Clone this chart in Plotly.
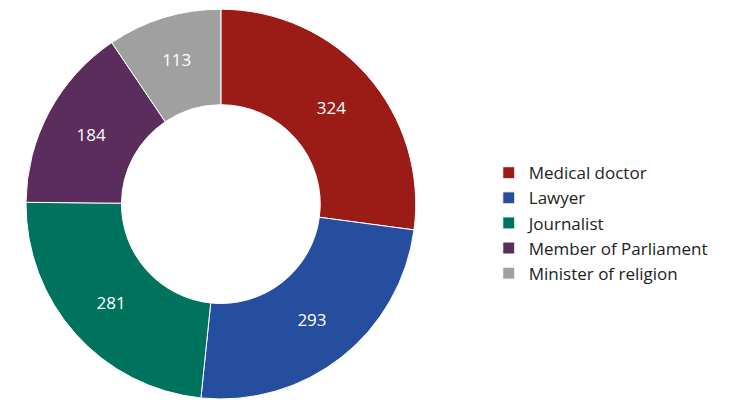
import plotly.graph_objects as go

labels = ["Medical doctor", "Lawyer", "Journalist", "Member of Parliament", "Minister of religion"]
values = [324, 293, 281, 184, 113]
colours = ["#9B1B17", "#254E9E", "#00735F", "#5A2D5C", "#A0A0A0"]

fig = go.Figure(go.Pie(
    labels=labels, values=values, hole=0.51, sort=False, direction="clockwise",
    rotation=0, marker=dict(colors=colours, line=dict(color="white", width=1)),
    textinfo="value", textposition="inside", insidetextorientation="horizontal",
    textfont=dict(color="white", size=17, family="Open Sans"),
    domain=dict(x=[0.024, 0.556], y=[0.037, 0.997]),
))

fig.update_layout(
    width=734, height=406, margin=dict(l=0, r=0, t=0, b=0),
    paper_bgcolor="white", font=dict(family="Open Sans", color="#222"),
    legend=dict(x=0.655, y=0.47, yanchor="middle", font=dict(size=17),
                itemwidth=30, tracegroupgap=0),
)

fig.write_html("out.html")
